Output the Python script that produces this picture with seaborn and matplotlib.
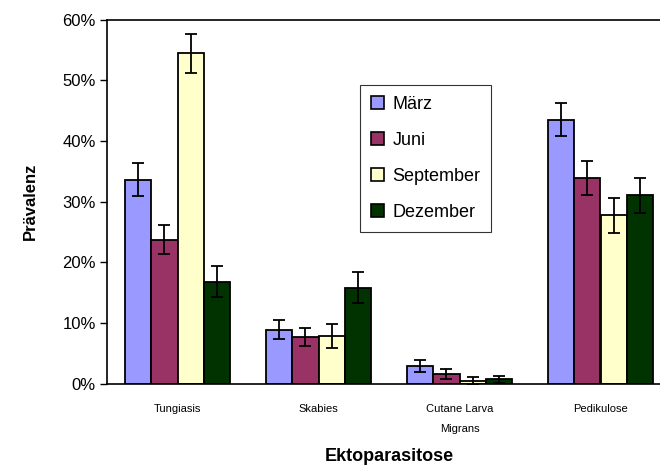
import matplotlib
matplotlib.use("Agg")
import matplotlib.pyplot as plt
import seaborn as sns
import pandas as pd
import numpy as np

categories = ["Tungiasis", "Skabies", "Cutane Larva\nMigrans", "Pedikulose"]
months = ["März", "Juni", "September", "Dezember"]
maerz = [33.6, 8.9, 2.9, 43.5]
juni = [23.7, 7.6, 1.6, 33.9]
september = [54.4, 7.8, 0.4, 27.7]
dezember = [16.8, 15.8, 0.7, 31.0]
err_maerz = [2.7, 1.6, 1.0, 2.7]
err_juni = [2.4, 1.5, 0.8, 2.8]
err_september = [3.2, 2.0, 0.6, 2.9]
err_dezember = [2.5, 2.5, 0.6, 2.9]
colors = ["#9999FF", "#993366", "#FFFFCC", "#003300"]

vals = [maerz, juni, september, dezember]
errs = [err_maerz, err_juni, err_september, err_dezember]
rows = []
for m, v, e in zip(months, vals, errs):
    for c, vv, ee in zip(categories, v, e):
        rows.append({"Kategorie": c, "Monat": m, "Wert": vv, "Fehler": ee})
df = pd.DataFrame(rows)

sns.set_theme(style="white")
plt.rcParams["font.family"] = ["Liberation Sans", "DejaVu Sans"]
plt.rcParams["text.color"] = "black"
plt.rcParams["axes.labelcolor"] = "black"
plt.rcParams["xtick.color"] = "black"
plt.rcParams["ytick.color"] = "black"

fig = plt.figure(figsize=(6.6, 4.68), dpi=100)
ax = fig.add_axes([107/660, (468-383.5)/468, 564/660, 364/468])

sns.barplot(data=df, x="Kategorie", y="Wert", hue="Monat", order=categories,
            hue_order=months, palette=colors, errorbar=None, width=0.74,
            gap=0, edgecolor="black", linewidth=1.3, saturation=1, ax=ax,
            legend=True)

for cont, m in zip(ax.containers, months):
    sub = df[df["Monat"] == m].set_index("Kategorie").loc[categories]
    xs = [b.get_x() + b.get_width()/2 for b in cont]
    ax.errorbar(xs, sub["Wert"].values, yerr=sub["Fehler"].values, fmt="none",
                ecolor="black", elinewidth=1.3, capsize=4.5, capthick=1.3, zorder=5)

ax.set_xlim(-0.5, 3.5)
ax.set_ylim(0, 60)
ax.set_yticks(np.arange(0, 61, 10))
ax.set_yticklabels([f"{t}%" for t in range(0, 61, 10)], fontsize=12, color="black")
ax.set_xticks(range(4))
ax.set_xticklabels(categories, fontsize=8, linespacing=2.2, color="black")
ax.set_xticks([-0.5, 0.5, 1.5, 2.5], minor=True)
ax.tick_params(axis="x", which="major", length=0, pad=15)
ax.tick_params(axis="x", which="minor", length=4, width=1, direction="out", color="black")
ax.tick_params(axis="y", length=5, width=1, direction="out", color="black", left=True, pad=3)

for s in ["left", "bottom", "top"]:
    ax.spines[s].set_visible(True)
    ax.spines[s].set_color("black")
    ax.spines[s].set_linewidth(1.2)
ax.spines["right"].set_visible(False)

ax.set_ylabel("Prävalenz", fontsize=12, fontweight="bold", labelpad=18, color="black")
ax.set_xlabel("Ektoparasitose", fontsize=13, fontweight="bold", labelpad=10, color="black")

ax.legend_.remove()
handles = [plt.Rectangle((0, 0), 1, 1, facecolor=c, edgecolor="black", linewidth=1.2) for c in colors]
leg = fig.legend(handles, months, loc="upper left", bbox_to_anchor=(360/660, 1-85/468),
                 bbox_transform=fig.transFigure, fontsize=13, frameon=True, fancybox=False,
                 edgecolor="black", handlelength=0.75, handleheight=0.75, handletextpad=0.45,
                 labelspacing=1.05, borderpad=0.6, borderaxespad=0)
leg.get_frame().set_linewidth(0.8)
for t in leg.get_texts():
    t.set_color("black")

fig.savefig("out.png", dpi=100)
